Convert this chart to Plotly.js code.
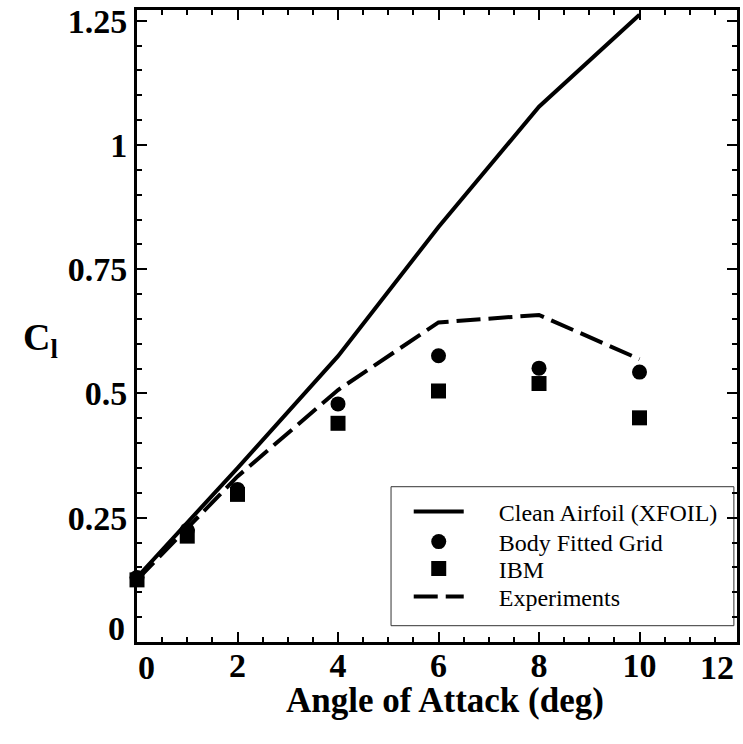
<!DOCTYPE html>
<html>
<head>
<meta charset="utf-8">
<script src="https://cdn.plot.ly/plotly-3.0.1.min.js"></script>
<style>html,body{margin:0;padding:0;background:#fff;}#chart{width:743px;height:744px;}</style>
</head>
<body>
<div id="chart"></div>
<script>
// Angle of attack (deg)
var alphaXfoil = [0, 2, 4, 6, 8, 10];
var clXfoil    = [0.13, 0.35, 0.575, 0.835, 1.077, 1.262];

var alphaBody  = [0, 1, 2, 4, 6, 8, 10];
var clBody     = [0.13, 0.225, 0.307, 0.479, 0.576, 0.551, 0.543];

var alphaIbm   = [0, 1, 2, 4, 6, 8, 10];
var clIbm      = [0.125, 0.213, 0.297, 0.44, 0.505, 0.52, 0.451];

var alphaExp   = [0, 2, 4, 6, 8, 10];
var clExp      = [0.125, 0.333, 0.507, 0.643, 0.658, 0.569];

var seriesNames = ['Clean Airfoil (XFOIL)', 'Body Fitted Grid', 'IBM', 'Experiments'];
var yTickVals = [0.25, 0.5, 0.75, 1, 1.25];
var yTickText = ['0.25', '0.5', '0.75', '1', '1.25'];
var xTickVals = [2, 4, 6, 8, 10];
var xTickText = ['2', '4', '6', '8', '10'];

var pad = '\u00a0\u00a0\u00a0\u00a0\u00a0';
var serif = '"Liberation Serif", "Times New Roman", Times, serif';
var boldFont = {family: serif, size: 34, color: '#000', weight: 'bold'};
var legendFont = {family: serif, size: 24, color: '#000'};

var traces = [
  {x: alphaXfoil, y: clXfoil, mode: 'lines', name: pad + seriesNames[0], legend: 'legend',
   line: {color: '#000', width: 4}},
  {x: alphaBody, y: clBody, mode: 'markers', name: pad + seriesNames[1], cliponaxis: false, legend: 'legend2',
   marker: {symbol: 'circle', size: 15, color: '#000'}},
  {x: alphaIbm, y: clIbm, mode: 'markers', name: pad + seriesNames[2], cliponaxis: false, legend: 'legend3',
   marker: {symbol: 'square', size: 15, color: '#000'}},
  {x: alphaExp, y: clExp, mode: 'lines', name: pad + seriesNames[3], legend: 'legend4',
   line: {color: '#000', width: 4, dash: '24px,8px'}}
];

var axisCommon = {
  showline: true, linecolor: '#000', linewidth: 3, mirror: 'allticks',
  ticks: 'inside', ticklen: 10, tickwidth: 2, tickcolor: '#000',
  showgrid: false, zeroline: false,
  tickfont: boldFont,
  minor: {ticks: 'inside', ticklen: 5, tickwidth: 2, tickcolor: '#000', showgrid: false}
};

function legendAt(rowY) {
  return {
    x: (409 - 137) / 600.6, y: (642 - rowY) / 632, xanchor: 'left', yanchor: 'middle',
    bgcolor: 'rgba(0,0,0,0)', borderwidth: 0, itemwidth: 50, font: legendFont
  };
}

var layout = {
  width: 743, height: 744,
  margin: {l: 137, r: 6, t: 10, b: 102},
  paper_bgcolor: '#fff', plot_bgcolor: '#fff',
  font: {family: serif, color: '#000'},
  showlegend: true,
  xaxis: Object.assign({}, axisCommon, {
    range: [0, 11.94], tickmode: 'array', tickvals: xTickVals, ticktext: xTickText,
    minor: Object.assign({}, axisCommon.minor, {dtick: 0.5}),
    ticklabelstandoff: -9
  }),
  yaxis: Object.assign({}, axisCommon, {
    range: [0, 1.2715], tickmode: 'array', tickvals: yTickVals, ticktext: yTickText,
    minor: Object.assign({}, axisCommon.minor, {dtick: 0.05}),
    ticklabelstandoff: 0
  }),
  legend: legendAt(512),
  legend2: legendAt(542),
  legend3: legendAt(569),
  legend4: legendAt(597),
  shapes: [{
    type: 'rect', xref: 'paper', yref: 'paper',
    x0: 0.4234, x1: 0.9948, y0: 0.0258, y1: 0.2457,
    line: {color: '#333', width: 1}, fillcolor: '#fff', layer: 'below'
  }],
  annotations: [
    {text: '0', xref: 'paper', yref: 'paper', x: (127 - 137) / 600.6, y: (642 - 628) / 632,
     xanchor: 'right', yanchor: 'middle', showarrow: false, font: boldFont},
    {text: '0', xref: 'paper', yref: 'paper', x: (147 - 137) / 600.6, y: -(667 - 642) / 632,
     xanchor: 'center', yanchor: 'middle', showarrow: false, font: boldFont},
    {text: '12', xref: 'paper', yref: 'paper', x: (718 - 137) / 600.6, y: -(667 - 642) / 632,
     xanchor: 'center', yanchor: 'middle', showarrow: false, font: boldFont},
    {text: 'Angle of Attack (deg)', xref: 'paper', yref: 'paper', x: (445 - 137) / 600.6, y: -(700 - 642) / 632,
     xanchor: 'center', yanchor: 'middle', showarrow: false,
     font: {family: serif, size: 35, color: '#000', weight: 'bold'}},
    {text: 'C<sub>l</sub>', xref: 'paper', yref: 'paper', x: (40 - 137) / 600.6, y: (642 - 340) / 632,
     xanchor: 'center', yanchor: 'middle', showarrow: false,
     font: {family: serif, size: 38, color: '#000', weight: 'bold'}}
  ]
};

Plotly.newPlot('chart', traces, layout, {staticPlot: true, displayModeBar: false});
</script>
</body>
</html>
